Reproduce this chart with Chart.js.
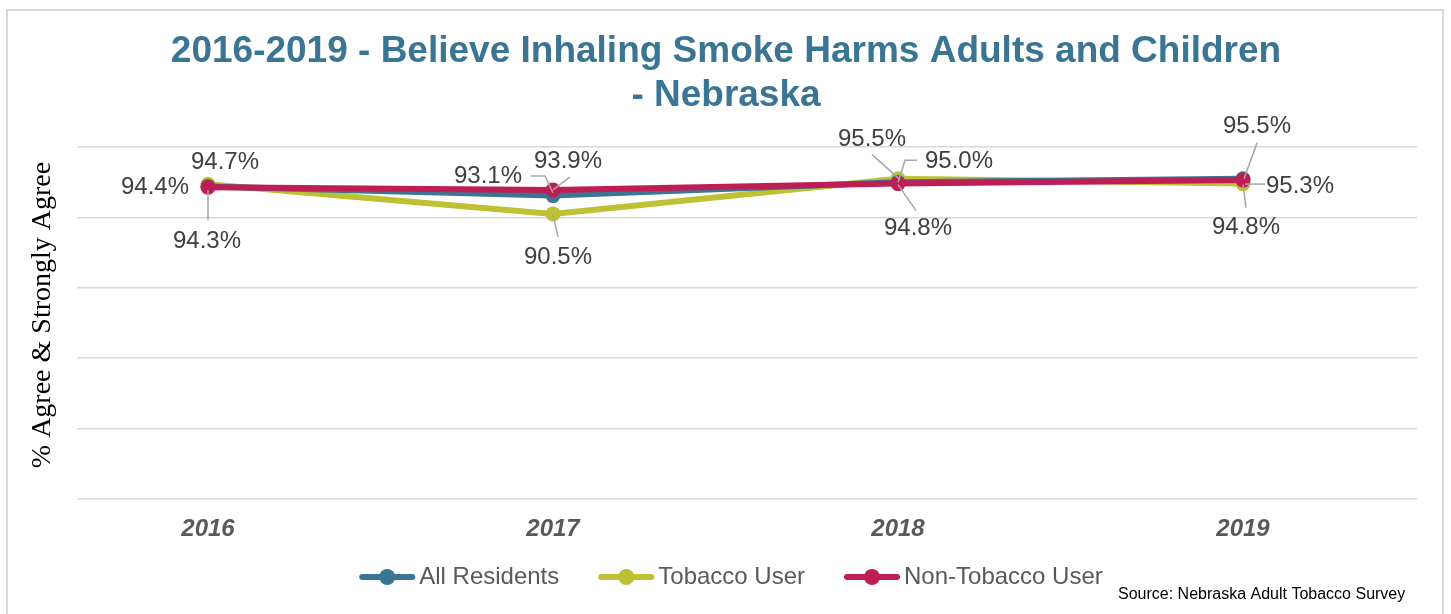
<!DOCTYPE html>
<html><head><meta charset="utf-8">
<script src="https://cdn.jsdelivr.net/npm/chart.js@4"></script>
<style>
html,body{margin:0;padding:0;background:#fff;overflow:hidden}
#wrap{position:relative;width:1451px;height:614px}
#frame{position:absolute;left:6px;top:9px;width:1438px;height:700px;border:2px solid #d9d9d9;box-sizing:border-box}
canvas{position:absolute;left:0;top:0}
</style></head><body>
<div id="wrap"><div id="frame"></div><canvas id="c" width="1451" height="614"></canvas></div>
<script>
// ---- data ----
const categories = [2016, 2017, 2018, 2019];
const allResidents = [94.4, 93.1, 95.0, 95.5];
const tobaccoUser = [94.7, 90.5, 95.5, 94.8];
const nonTobaccoUser = [94.3, 93.9, 94.8, 95.3];
const seriesNames = ['All Residents', 'Tobacco User', 'Non-Tobacco User'];
const yTicks = [50, 60, 70, 80, 90, 100];
const titleLines = ['2016-2019 - Believe Inhaling Smoke Harms Adults and Children', '- Nebraska'];
const yTitle = '% Agree & Strongly Agree';
const sourceText = 'Source: Nebraska Adult Tobacco Survey';

// ---- styles ----
const SANS = '"Liberation Sans", Arial, sans-serif';
const SERIF = '"Liberation Serif", "Times New Roman", serif';
const colors = ['#3A7593', '#BDC133', '#BE1E55'];
const drawOrder = [2, 3, 1];
// label offsets (px) from the data point, with leader polyline offsets
const labelPlacement = [
  [ {dx:-53,dy:1}, {dx:-65,dy:-19,leader:[[-22,-19.6],[-8,-19.6],[0,-2.6]]}, {dx:61,dy:-21,leader:[[19,-22],[7,-22],[0,0]]}, {dx:14,dy:-52,leader:[[14,-36],[1,0]]} ],
  [ {dx:17,dy:-22}, {dx:5,dy:43,leader:[[5,23],[0,1]]}, {dx:-26,dy:-39,leader:[[-26,-24],[2,1]]}, {dx:3,dy:44,leader:[[3,24],[0,1]]} ],
  [ {dx:-1,dy:54,leader:[[0,33],[0,3]]}, {dx:15,dy:-29,leader:[[17,-13],[0,0]]}, {dx:20,dy:45,leader:[[18,27],[0,1]]}, {dx:57,dy:6,leader:[[22,4],[2,4]]} ]
];
const seriesValues = [allResidents, tobaccoUser, nonTobaccoUser];

const deco = {
  id: 'deco',
  afterDatasetsDraw(chart) {
    const ctx = chart.ctx;
    ctx.save();
    chart.data.datasets.forEach((ds, si) => {
      const meta = chart.getDatasetMeta(si);
      meta.data.forEach((pt, i) => {
        const pl = labelPlacement[si][i];
        if (pl.leader) {
          ctx.strokeStyle = '#a6a6a6'; ctx.lineWidth = 1.5;
          ctx.beginPath();
          pl.leader.forEach((p, k) => { const fx = pt.x + p[0], fy = pt.y + p[1]; k ? ctx.lineTo(fx, fy) : ctx.moveTo(fx, fy); });
          ctx.stroke();
        }
      });
    });
    chart.data.datasets.forEach((ds, si) => {
      const meta = chart.getDatasetMeta(si);
      meta.data.forEach((pt, i) => {
        const pl = labelPlacement[si][i];
        ctx.font = '24px ' + SANS; ctx.fillStyle = '#404040';
        ctx.textAlign = 'center'; ctx.textBaseline = 'middle';
        ctx.fillText(seriesValues[si][i].toFixed(1) + '%', pt.x + pl.dx, pt.y + pl.dy);
      });
    });
    ctx.restore();
  },
  afterDraw(chart) {
    const ctx = chart.ctx;
    ctx.save();
    // title
    ctx.font = 'bold 37px ' + SANS; ctx.fillStyle = '#3A7593';
    ctx.textAlign = 'center'; ctx.textBaseline = 'middle';
    ctx.fillText(titleLines[0], 726, 52);
    ctx.fillText(titleLines[1], 726, 96);
    // y title
    ctx.save();
    ctx.translate(43, 315); ctx.rotate(-Math.PI / 2);
    ctx.font = '28px ' + SERIF; ctx.fillStyle = '#000';
    ctx.fillText(yTitle, 0, 0);
    ctx.restore();
    // legend
    ctx.font = '24px ' + SANS;
    const items = chart.data.datasets.map(ds => ({text: ds.label, color: ds.borderColor, w: ctx.measureText(ds.label).width}));
    const mW = 56, gap = 4, sp = 39;
    const total = items.reduce((s, it) => s + mW + gap + it.w, 0) + sp * (items.length - 1);
    let x = 731 - total / 2;
    const y = 577;
    items.forEach(it => {
      ctx.strokeStyle = it.color; ctx.lineWidth = 6; ctx.lineCap = 'round';
      ctx.beginPath(); ctx.moveTo(x + 3, y); ctx.lineTo(x + mW - 3, y); ctx.stroke();
      ctx.fillStyle = it.color; ctx.beginPath(); ctx.arc(x + mW / 2, y, 8, 0, Math.PI * 2); ctx.fill();
      ctx.fillStyle = '#595959'; ctx.textAlign = 'left'; ctx.textBaseline = 'middle';
      ctx.fillText(it.text, x + mW + gap, y);
      x += mW + gap + it.w + sp;
    });
    // source
    ctx.font = '16px ' + SANS; ctx.fillStyle = '#000'; ctx.textAlign = 'left'; ctx.textBaseline = 'middle';
    ctx.fillText(sourceText, 1118, 595);
    ctx.restore();
  }
};

const datasets = seriesNames.map((name, si) => ({
  label: name,
  data: categories.map((c, i) => ({x: c, y: seriesValues[si][i]})),
  borderColor: colors[si],
  backgroundColor: colors[si],
  borderWidth: 6,
  pointRadius: 7.5,
  pointHoverRadius: 7.5,
  pointBorderWidth: 0,
  tension: 0,
  order: drawOrder[si]
}));

new Chart(document.getElementById('c'), {
  type: 'line',
  data: { datasets },
  options: {
    responsive: false,
    animation: false,
    layout: { padding: { left: 77, right: 34, top: 147, bottom: 75 } },
    plugins: { legend: { display: false }, title: { display: false }, tooltip: { enabled: false } },
    scales: {
      x: {
        type: 'linear', min: 2015.6203, max: 2019.5043,
        afterBuildTicks: s => { s.ticks = categories.map(v => ({value: v})); },
        ticks: { callback: v => String(v), color: '#595959', font: { family: SANS, size: 24, weight: 'bold', style: 'italic' }, padding: 16, maxRotation: 0, autoSkip: false },
        grid: { display: false, drawTicks: false },
        border: { display: false },
        afterFit: s => { s.height = 40; }
      },
      y: {
        min: 50, max: 100,
        afterBuildTicks: s => { s.ticks = yTicks.map(v => ({value: v})); },
        ticks: { display: false },
        grid: { color: '#d9d9d9', lineWidth: 1.5, drawTicks: false },
        border: { display: false },
        afterFit: s => { s.width = 0; }
      }
    }
  },
  plugins: [deco]
});
</script>
</body></html>
